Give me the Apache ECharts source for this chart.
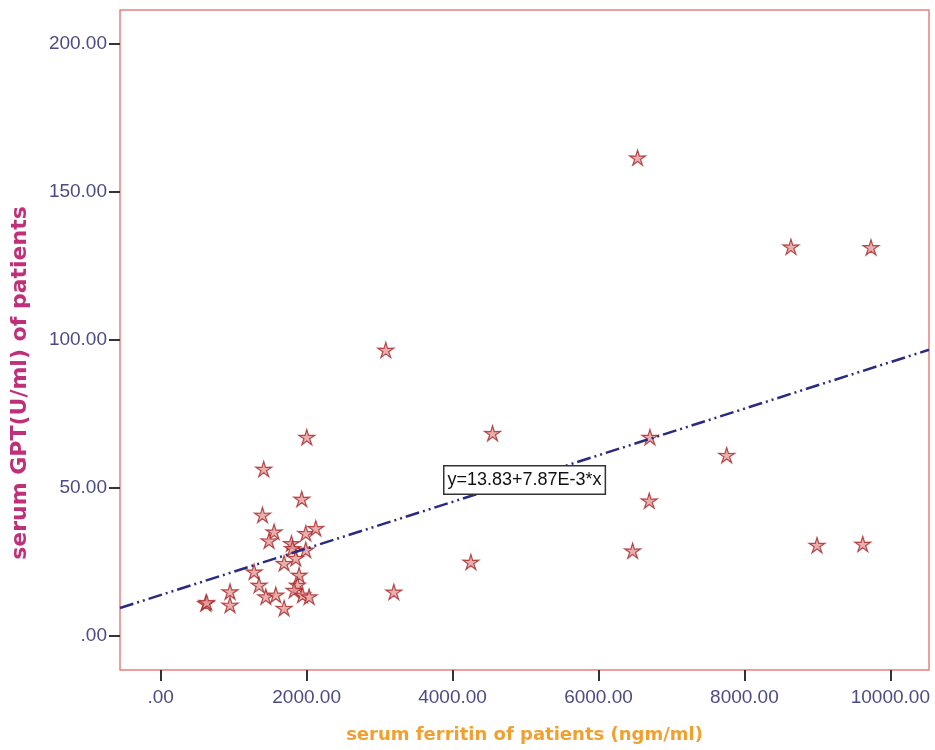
<!DOCTYPE html>
<html>
<head>
<meta charset="utf-8">
<script src="https://cdn.jsdelivr.net/npm/echarts@6/dist/echarts.min.js"></script>
<style>
html,body{margin:0;padding:0;background:#fff;}
#chart{width:935px;height:750px;}
</style>
</head>
<body>
<div id="chart"></div>
<script>
// serum ferritin (ngm/ml)
const ferritin = [6536, 8638, 9735, 3085, 4548, 2002, 6705, 7757, 1412, 1933, 6696, 1395,
  6468, 4251, 8995, 9622, 3195, 1554, 1485, 1792, 1806, 1988, 2125, 1988, 1691, 1851,
  1280, 1897, 1348, 1874, 1440, 1577, 1828, 1943, 2034, 1691, 617, 630, 950, 950];
// serum GPT (U/ml)
const gpt = [161.6, 131.5, 131.3, 96.6, 68.5, 67.2, 67.2, 61.1, 56.4, 46.3, 45.7, 40.9,
  28.8, 25.0, 30.7, 31.1, 14.9, 35.2, 32.2, 31.3, 29.6, 34.7, 36.4, 29.1, 24.6, 26.3,
  21.7, 20.6, 17.2, 17.2, 13.3, 13.9, 15.5, 13.9, 13.3, 9.4, 11.0, 11.4, 15.0, 10.5];
const xTicks = [0, 2000, 4000, 6000, 8000, 10000];
const yTicks = [0, 50, 100, 150, 200];
const xRange = [-558, 10530];
const yRange = [-11.5, 211.5];
const fitIntercept = 13.83;
const fitSlope = 7.87e-3;
const fitLabel = 'y=13.83+7.87E-3*x';
const xTitle = 'serum ferritin of patients (ngm/ml)';
const yTitle = 'serum GPT(U/ml) of patients';

const points = ferritin.map((x, i) => [x, gpt[i]]);
const fitLine = xRange.map(x => [x, fitIntercept + fitSlope * x]);
const fmt = v => (v === 0 ? '.00' : v.toFixed(2));
const star = 'path://M50,0 L60.6,35.4 L97.55,34.55 L67.1,55.6 L79.39,90.45 L50,68 L20.61,90.45 L32.9,55.6 L2.45,34.55 L39.4,35.4 Z';

const chart = echarts.init(document.getElementById('chart'));
chart.setOption({
  animation: false,
  backgroundColor: '#fff',
  grid: { left: 120, right: 6, top: 10, bottom: 80, show: true, borderColor: '#e58080', borderWidth: 1.5, backgroundColor: '#fff' },
  xAxis: {
    type: 'value', min: xRange[0], max: xRange[1],
    splitLine: { show: false },
    axisLine: { show: false, onZero: false },
    axisTick: { show: true, length: 11, customValues: xTicks, lineStyle: { color: '#333', width: 2 } },
    axisLabel: { customValues: xTicks, formatter: fmt, margin: 18, color: '#4b4b85', fontSize: 19, fontFamily: 'Liberation Sans, Arial' },
    name: xTitle, nameLocation: 'middle', nameGap: 56,
    nameTextStyle: { color: '#f0a030', fontSize: 18, fontWeight: 'bold', fontFamily: 'DejaVu Sans' }
  },
  yAxis: {
    type: 'value', min: yRange[0], max: yRange[1],
    splitLine: { show: false },
    axisLine: { show: false, onZero: false },
    axisTick: { show: true, length: 11, customValues: yTicks, lineStyle: { color: '#333', width: 2 } },
    axisLabel: { customValues: yTicks, formatter: fmt, margin: 13, color: '#4b4b85', fontSize: 19, fontFamily: 'Liberation Sans, Arial' }
  },
  series: [
    {
      type: 'scatter', data: points, symbol: star, symbolSize: 16, symbolKeepAspect: true,
      itemStyle: { color: '#e49a9a', borderColor: '#a82424', borderWidth: 1.2 }
    },
    {
      type: 'line', data: fitLine, symbol: 'none', silent: true,
      lineStyle: { color: '#2a2a80', width: 2.5, type: [14, 4, 2, 4, 2, 4] }
    }
  ],
  graphic: [
    {
      type: 'text', left: 443, top: 465, z: 100,
      style: {
        text: fitLabel, fill: '#111', fontSize: 18, fontFamily: 'Liberation Sans, Arial',
        backgroundColor: '#fff', borderColor: '#333', borderWidth: 1.5, padding: [5, 3, 4, 3]
      }
    },
    {
      type: 'text', x: 20, y: 383, rotation: Math.PI / 2, z: 100,
      style: {
        text: yTitle, fill: '#c0307a', fontSize: 22, fontWeight: 'bold', fontFamily: 'DejaVu Sans',
        align: 'center', verticalAlign: 'middle'
      }
    }
  ]
});
</script>
</body>
</html>
